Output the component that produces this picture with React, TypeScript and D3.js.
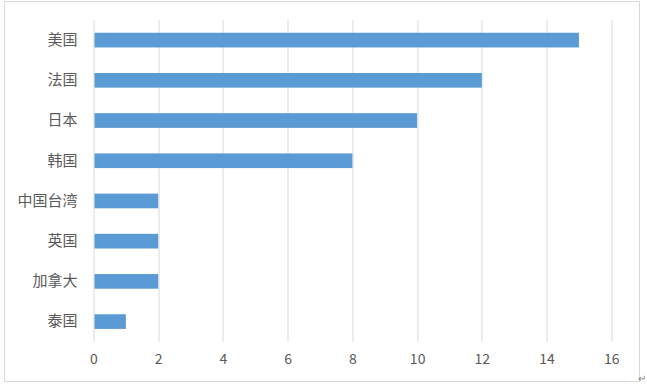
import React, { useEffect, useRef } from 'react';
import * as d3 from 'd3';

// data
const categories = ['美国', '法国', '日本', '韩国', '中国台湾', '英国', '加拿大', '泰国'];
const counts = [15, 12, 10, 8, 2, 2, 2, 1];
const xTicks = [0, 2, 4, 6, 8, 10, 12, 14, 16];

const App = () => {
  const svgRef = useRef<SVGSVGElement | null>(null);
  const width = 647;
  const height = 387;

  useEffect(() => {
    const svg = d3.select(svgRef.current);
    svg.selectAll('*').remove();

    const margin = { top: 20, right: 35.7, bottom: 45.3, left: 93.5 };
    const innerW = width - margin.left - margin.right;
    const innerH = height - margin.top - margin.bottom;

    // chart frame
    svg.append('rect')
      .attr('x', 4.5)
      .attr('y', 1.5)
      .attr('width', 635)
      .attr('height', 380)
      .attr('fill', '#fff')
      .attr('stroke', '#d9d9d9')
      .attr('stroke-width', 1);

    const chart = svg.append('g')
      .attr('transform', 'translate(' + margin.left + ',' + margin.top + ')');

    const xScale = d3.scaleLinear().domain([0, 16]).range([0, innerW]);
    const yScale = d3.scaleBand<string>()
      .domain(categories)
      .range([0, innerH])
      .paddingInner(0.635)
      .paddingOuter(0.3175);

    // vertical gridlines
    chart.selectAll('.grid')
      .data(xTicks)
      .enter().append('line')
      .attr('class', 'grid')
      .attr('x1', d => Math.round(xScale(d)) + 0.5)
      .attr('x2', d => Math.round(xScale(d)) + 0.5)
      .attr('y1', 0)
      .attr('y2', innerH)
      .attr('stroke', '#d9d9d9')
      .attr('stroke-width', 1);

    // bars
    chart.selectAll('.bar')
      .data(counts)
      .enter().append('rect')
      .attr('class', 'bar')
      .attr('x', xScale(0) + 1)
      .attr('y', (d, i) => yScale(categories[i]) as number)
      .attr('width', d => xScale(d) - xScale(0) - 1)
      .attr('height', yScale.bandwidth())
      .attr('fill', '#5b9bd5');

    // x axis labels
    const xAxis = d3.axisBottom(xScale).tickValues(xTicks).tickSize(0).tickPadding(12);
    const xg = chart.append('g')
      .attr('transform', 'translate(0,' + innerH + ')')
      .call(xAxis);
    xg.select('.domain').remove();
    xg.selectAll('text')
      .attr('fill', '#595959')
      .style('font-family', '"Noto Sans CJK SC", "Noto Sans", sans-serif')
      .style('font-size', '14px');

    // category labels
    const yAxis = d3.axisLeft(yScale).tickSize(0).tickPadding(16);
    const yg = chart.append('g').call(yAxis);
    yg.select('.domain').remove();
    yg.selectAll('text')
      .attr('fill', '#595959')
      .style('font-family', '"Noto Sans CJK SC", sans-serif')
      .style('font-size', '15px');

    // paragraph mark from the source document
    svg.append('text')
      .attr('x', 638)
      .attr('y', 382)
      .attr('fill', '#808080')
      .style('font-family', '"Noto Sans CJK SC", sans-serif')
      .style('font-size', '10px')
      .text('↵');
  }, []);

  return (
    <div>
      <svg
        ref={svgRef}
        width={width}
        height={height}
        style={{ position: 'absolute', left: 0, top: 0, background: '#fff' }}
      />
    </div>
  );
};

export default App;
